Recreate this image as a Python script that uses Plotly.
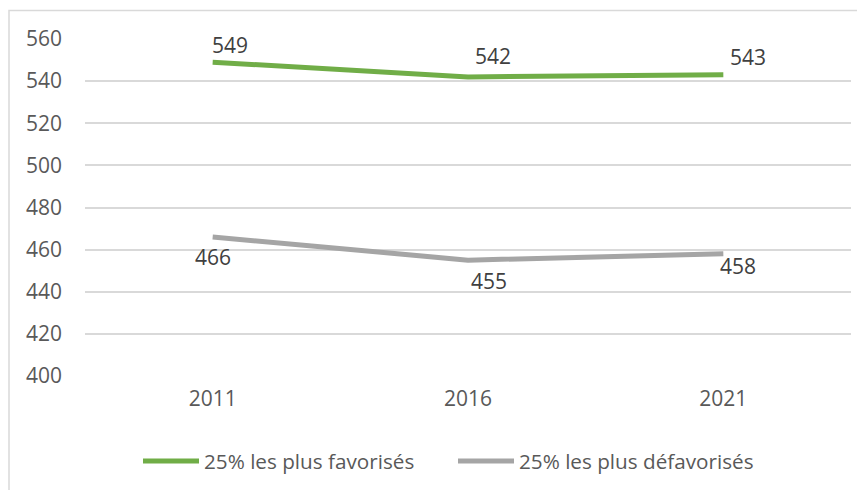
import plotly.graph_objects as go

years = ["2011", "2016", "2021"]
favorises = [549, 542, 543]
defavorises = [466, 455, 458]
name_fav = "25% les plus favorisés"
name_defav = "25% les plus défavorisés"
y_ticks = [400, 420, 440, 460, 480, 500, 520, 540, 560]

# label pixel offsets (position only)
fav_shift = [(17, 17), (25, 21), (25, 18)]
defav_shift = [(0, -20), (21, -21), (15, -12)]

GREEN = "#70AD47"
GRAY = "#A5A5A5"
TXT = "#595959"
LBL = "#404040"
FONT = "Open Sans, Noto Sans, sans-serif"
FS = 21

# page has an 8px body margin; work in page coordinates and offset
OFF = 8
W, H = 865 - OFF, 490 - OFF
PL, PR, PT, PB = 85, 851, 39, 376  # plot area in page pixels
L, R, T, B = PL - OFF, (W + OFF) - PR, PT - OFF, (H + OFF) - PB
pw, ph = PR - PL, PB - PT


def px(x):
    return (x - PL) / pw


def py(y):
    return (PB - y) / ph


fig = go.Figure()
fig.add_trace(go.Scatter(x=years, y=favorises, mode="lines", name=name_fav,
                         line=dict(color=GREEN, width=5), showlegend=False))
fig.add_trace(go.Scatter(x=years, y=defavorises, mode="lines", name=name_defav,
                         line=dict(color=GRAY, width=5), showlegend=False))

for i, v in enumerate(favorises):
    dx, dy = fav_shift[i]
    fig.add_annotation(x=i, y=v, text=str(v), showarrow=False, xshift=dx, yshift=dy,
                       font=dict(size=FS, color=LBL, family=FONT))
for i, v in enumerate(defavorises):
    dx, dy = defav_shift[i]
    fig.add_annotation(x=i, y=v, text=str(v), showarrow=False, xshift=dx, yshift=dy,
                       font=dict(size=FS, color=LBL, family=FONT))

# frame
fig.add_shape(type="rect", xref="paper", yref="paper",
              x0=px(9), x1=px(900), y0=py(520), y1=py(10.5),
              line=dict(color="#D9D9D9", width=1.5), layer="below")

# manual legend
legend_items = [(name_fav, GREEN, 143), (name_defav, GRAY, 458)]
ly = 461
for name, col, x0 in legend_items:
    fig.add_shape(type="line", xref="paper", yref="paper",
                  x0=px(x0), x1=px(x0 + 56), y0=py(ly), y1=py(ly),
                  line=dict(color=col, width=5))
    fig.add_annotation(xref="paper", yref="paper", x=px(x0 + 59), y=py(ly),
                       xanchor="left", yanchor="middle", showarrow=False, text=name,
                       font=dict(size=FS - 0.3, color=TXT, family=FONT))

fig.update_layout(
    width=W, height=H,
    margin=dict(l=L, r=R, t=T, b=B, autoexpand=False),
    paper_bgcolor="white", plot_bgcolor="white",
    font=dict(family=FONT, size=FS, color=TXT),
    showlegend=False,
    xaxis=dict(type="category", range=[-0.5, 2.5], showgrid=False, showline=False,
               ticks="", tickfont=dict(size=FS, color=TXT), ticklabelstandoff=8,
               automargin=False),
    yaxis=dict(range=[400, 560], tickvals=y_ticks, showgrid=True, gridcolor="#D9D9D9",
               gridwidth=1.5, zeroline=False, showline=False, ticks="",
               tickfont=dict(size=FS, color=TXT), ticklabelstandoff=22,
               automargin=False),
)

fig.write_html("out.html")
